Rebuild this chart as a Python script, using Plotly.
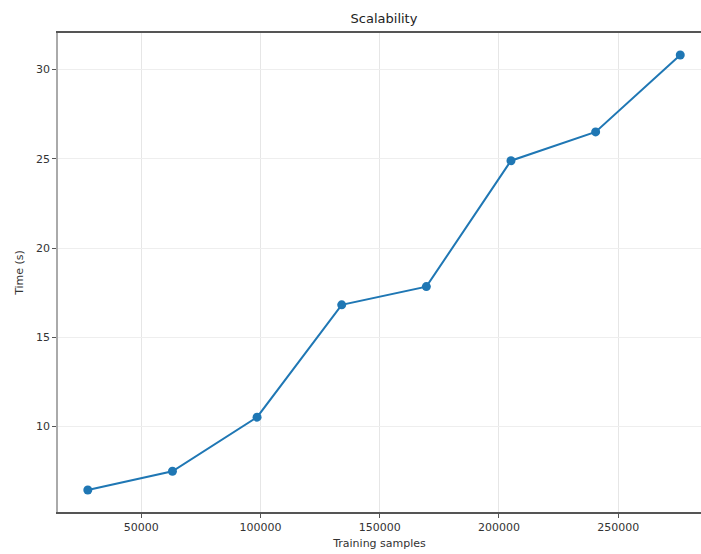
import plotly.graph_objects as go

train_samples = [27600, 63086, 98571, 134057, 169543, 205029, 240514, 276000]
time_s = [6.45, 7.50, 10.53, 16.82, 17.84, 24.89, 26.50, 30.81]

x_ticks = [50000, 100000, 150000, 200000, 250000]
y_ticks = [10, 15, 20, 25, 30]

fig = go.Figure()
fig.add_trace(go.Scatter(
    x=train_samples, y=time_s, mode="lines+markers",
    line=dict(color="#1f77b4", width=2),
    marker=dict(color="#1f77b4", size=9),
    showlegend=False,
))

font_family = "DejaVu Sans"
fig.update_layout(
    width=701, height=554,
    margin=dict(l=58, r=0, t=33, b=42),
    paper_bgcolor="white", plot_bgcolor="white",
    font=dict(family=font_family, size=11, color="#333333"),
    title=dict(text="Scalability", x=(58 + 710) / 2 / 701, xanchor="center",
               y=1 - 18 / 554, yanchor="middle", yref="container",
               font=dict(size=13, color="#222222")),
    xaxis=dict(
        range=[15100, 284700], tickvals=x_ticks, ticktext=[str(v) for v in x_ticks],
        showgrid=True, gridcolor="#e6e6e6", gridwidth=1, zeroline=False,
        showline=True, linecolor="#555555", linewidth=1.5, mirror=True,
        ticks="outside", ticklen=4, tickcolor="#555555",
        title=dict(text="Training samples", standoff=6, font=dict(size=11, color="#333333")),
    ),
    yaxis=dict(
        range=[5.22, 32.04], tickvals=y_ticks, ticktext=[str(v) for v in y_ticks],
        showgrid=True, gridcolor="#eeeeee", gridwidth=1, zeroline=False,
        showline=True, linecolor="#aaaaaa", linewidth=1.5, mirror=False,
        ticks="outside", ticklen=4, tickcolor="#555555",
        title=dict(text="Time (s)", standoff=10, font=dict(size=11, color="#333333")),
    ),
)

fig.write_html("out.html")
